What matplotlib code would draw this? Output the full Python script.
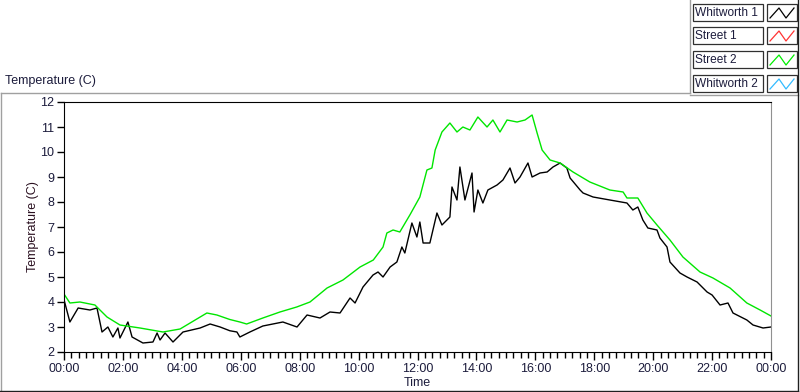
import numpy as np
import matplotlib
matplotlib.use("Agg")
import matplotlib.pyplot as plt
from matplotlib.patches import Rectangle
from matplotlib.ticker import MultipleLocator

plt.rcParams['font.family'] = ['Liberation Sans', 'DejaVu Sans']

# series (hours since midnight, degrees C)
street2_h = [0.0, 0.2, 0.54, 1.05, 1.46, 1.9, 2.58, 3.36, 3.94, 4.85, 5.19, 5.63, 5.97,
             6.2, 6.75, 7.33, 7.9, 8.35, 8.93, 9.47, 10.05, 10.5, 10.83, 10.96, 11.17,
             11.4, 11.75, 12.08, 12.32, 12.49, 12.6, 12.83, 13.1, 13.34, 13.54, 13.78,
             14.05, 14.36, 14.56, 14.8, 15.04, 15.38, 15.65, 15.89, 16.06, 16.23, 16.5,
             16.84, 17.28, 17.85, 18.53, 18.98, 19.11, 19.48, 19.79, 20.13, 20.57, 21.01,
             21.59, 22.03, 22.61, 23.18, 23.63, 24.0]
street2_t = [4.32, 3.96, 4.0, 3.88, 3.4, 3.08, 2.96, 2.8, 2.92, 3.56, 3.48, 3.3, 3.2,
             3.12, 3.36, 3.6, 3.8, 4.0, 4.56, 4.88, 5.4, 5.68, 6.2, 6.76, 6.88,
             6.8, 7.5, 8.2, 9.28, 9.36, 10.08, 10.8, 11.16, 10.8, 11.0, 10.88,
             11.4, 11.0, 11.28, 10.8, 11.28, 11.2, 11.28, 11.48, 10.76, 10.08, 9.68,
             9.56, 9.2, 8.8, 8.48, 8.4, 8.16, 8.16, 7.56, 7.08, 6.48, 5.8,
             5.2, 4.96, 4.56, 3.96, 3.68, 3.44]

whitworth1_h = [0.0, 0.03, 0.2, 0.48, 0.88, 1.12, 1.29, 1.49, 1.66, 1.83, 1.9, 2.17, 2.31,
                2.68, 3.02, 3.16, 3.26, 3.43, 3.7, 4.04, 4.62, 4.96, 5.3, 5.63, 5.87,
                5.97, 6.31, 6.75, 7.43, 7.91, 8.25, 8.69, 9.03, 9.37, 9.71, 9.88, 10.15,
                10.49, 10.66, 10.83, 11.07, 11.3, 11.47, 11.57, 11.81, 11.98, 12.08, 12.19,
                12.42, 12.66, 12.83, 13.1, 13.17, 13.34, 13.44, 13.61, 13.85, 13.92, 14.05,
                14.22, 14.39, 14.7, 14.9, 15.14, 15.31, 15.48, 15.75, 15.89, 16.16, 16.4,
                16.6, 16.84, 17.07, 17.18, 17.52, 17.62, 17.96, 18.53, 19.11, 19.31, 19.48,
                19.65, 19.82, 20.13, 20.23, 20.47, 20.57, 20.91, 21.15, 21.49, 21.83, 22.0,
                22.27, 22.54, 22.71, 23.18, 23.39, 23.73, 24.0]
whitworth1_t = [4.1, 3.96, 3.2, 3.76, 3.68, 3.76, 2.8, 3.0, 2.6, 2.96, 2.56, 3.2, 2.6,
                2.36, 2.4, 2.76, 2.48, 2.76, 2.4, 2.8, 2.96, 3.12, 3.0, 2.85, 2.8,
                2.6, 2.8, 3.04, 3.2, 3.0, 3.48, 3.36, 3.6, 3.56, 4.16, 3.96, 4.6,
                5.08, 5.2, 5.0, 5.4, 5.6, 6.2, 5.96, 7.16, 6.6, 7.2, 6.36,
                6.36, 7.56, 7.08, 7.4, 8.6, 8.08, 9.4, 8.08, 9.16, 7.6, 8.48,
                7.96, 8.48, 8.68, 8.88, 9.36, 8.76, 9.0, 9.56, 9.0, 9.16, 9.2,
                9.4, 9.56, 9.36, 8.96, 8.48, 8.36, 8.2, 8.08, 7.96, 7.68, 7.8,
                7.28, 6.96, 6.88, 6.56, 6.2, 5.6, 5.16, 5.0, 4.8, 4.4, 4.28,
                3.88, 3.96, 3.56, 3.28, 3.08, 2.96, 3.0]

legend_names = ['Whitworth 1', 'Street 1', 'Street 2', 'Whitworth 2']
legend_colors = ['#000000', '#ff3333', '#00ee00', '#33bbff']

hour_ticks = list(range(0, 25, 2))
hour_labels = ['%02d:00' % (h % 24) for h in hour_ticks]

txt = '#1c1c3c'
fs = 9
W, H = 800, 392
fig = plt.figure(figsize=(W / 100, H / 100), dpi=100)
fig.patch.set_facecolor('white')

# overlay in pixel coordinates for the panel frame and legend
ov = fig.add_axes([0, 0, 1, 1])
ov.set_xlim(0, W)
ov.set_ylim(H, 0)
ov.axis('off')

gray = '#a0a0a0'
ov.plot([0.5, 690], [93, 93], color=gray, lw=1)
ov.plot([1, 1], [93, 391], color=gray, lw=1)
ov.plot([690, 690], [0, 93], color=gray, lw=1)
ov.plot([690, 798], [95, 95], color=gray, lw=1)
ov.plot([0, 798], [391, 391], color='#202020', lw=1)
ov.plot([798, 798], [0, 391], color='#202020', lw=1)

rows_y = [4, 27, 51, 75]
for name, col, y0 in zip(legend_names, legend_colors, rows_y):
    ov.add_patch(Rectangle((693, y0), 70, 17, facecolor='white', edgecolor='#303030', lw=0.9))
    ov.text(695, y0 + 9, name, fontsize=8.6, color=txt, va='center', ha='left')
    ov.add_patch(Rectangle((767, y0), 30, 17, facecolor='white', edgecolor='#303030', lw=0.9))
    sx = [770, 779, 786, 794]
    sy = [y0 + 14, y0 + 4, y0 + 14, y0 + 4]
    ov.plot(sx, sy, color=col, lw=0.9)

ov.text(5, 81, 'Temperature (C)', fontsize=fs, color=txt, va='center', ha='left')

ax = fig.add_axes([64 / W, 1 - 352 / H, (771 - 64) / W, (352 - 102) / H])
ax.plot(whitworth1_h, whitworth1_t, color='black', lw=1)
ax.plot(street2_h, street2_t, color='#00e600', lw=1)

ax.set_xlim(0, 24)
ax.set_ylim(2, 12)
ax.set_xticks(hour_ticks)
ax.set_xticklabels(hour_labels)
ax.xaxis.set_minor_locator(MultipleLocator(0.25))
ax.set_yticks(range(2, 13))
ax.tick_params(axis='both', direction='out', labelsize=fs, labelcolor=txt, width=1)
ax.tick_params(axis='x', which='major', length=6, pad=2)
ax.tick_params(axis='x', which='minor', length=4, width=1)
ax.tick_params(axis='y', which='major', length=5, pad=2)
ax.set_xlabel('Time', fontsize=fs, color=txt, labelpad=1)
ax.set_ylabel('Temperature (C)', fontsize=fs, color='#2a1020', labelpad=1)
for s in ['left', 'top', 'bottom']:
    ax.spines[s].set_color('black')
ax.spines['right'].set_color('#909090')

fig.savefig('out.png', dpi=100, facecolor='white')
